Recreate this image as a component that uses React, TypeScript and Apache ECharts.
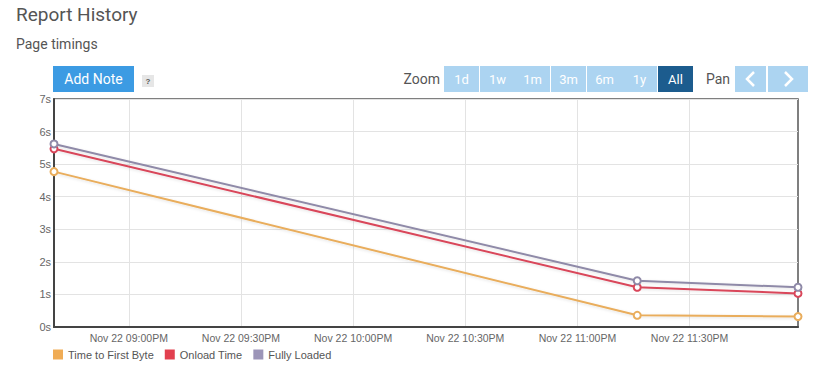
import React, { useEffect, useRef } from "react";
import * as echarts from "echarts";

const times = [
  new Date(2019, 10, 22, 20, 40).getTime(),
  new Date(2019, 10, 22, 23, 16).getTime(),
  new Date(2019, 10, 22, 23, 59).getTime(),
];
const tickTimes = [
  new Date(2019, 10, 22, 21, 0).getTime(),
  new Date(2019, 10, 22, 21, 30).getTime(),
  new Date(2019, 10, 22, 22, 0).getTime(),
  new Date(2019, 10, 22, 22, 30).getTime(),
  new Date(2019, 10, 22, 23, 0).getTime(),
  new Date(2019, 10, 22, 23, 30).getTime(),
];
const seriesNames = ["Time to First Byte", "Onload Time", "Fully Loaded"];
const ttfb = [4.77, 0.36, 0.32];
const onload = [5.47, 1.22, 1.03];
const fullyLoaded = [5.62, 1.42, 1.22];
const lineColors = ["#e9ad5c", "#d9465a", "#8f8aa8"];
const legendColors = ["#f0ac55", "#e2404f", "#9c95b8"];
const zoomButtons = ["1d", "1w", "1m", "3m", "6m", "1y", "All"];
const zoomButtonX = [444, 480, 515, 551, 587, 622, 658];

const MONTHS = ["Jan", "Feb", "Mar", "Apr", "May", "Jun", "Jul", "Aug", "Sep", "Oct", "Nov", "Dec"];
function fmt(v: number) {
  const d = new Date(v);
  let h = d.getHours();
  const ap = h >= 12 ? "PM" : "AM";
  h = h % 12;
  if (h === 0) h = 12;
  const hh = (h < 10 ? "0" : "") + h;
  const mm = (d.getMinutes() < 10 ? "0" : "") + d.getMinutes();
  return `${MONTHS[d.getMonth()]} ${d.getDate()} ${hh}:${mm}${ap}`;
}

export default function App() {
  const ref = useRef<HTMLDivElement>(null);
  useEffect(() => {
    const chart = echarts.init(ref.current!, null, { renderer: "svg" });
    const values = [ttfb, onload, fullyLoaded];
    const font = "'Liberation Sans', Arial, sans-serif";
    const ui = "Roboto, sans-serif";
    const graphic: any[] = [
      { type: "text", left: 16, top: 5, style: { text: "Report History", font: `19px ${ui}`, fill: "#555" } },
      { type: "text", left: 16, top: 37, style: { text: "Page timings", font: `14px ${ui}`, fill: "#555" } },
      { type: "rect", shape: { x: 53, y: 66, width: 81, height: 26 }, style: { fill: "#3c9be3" } },
      { type: "text", x: 93.5, y: 79, style: { text: "Add Note", font: `14px ${ui}`, fill: "#fff", align: "center", verticalAlign: "middle" } },
      { type: "rect", shape: { x: 142, y: 75, width: 12, height: 12 }, style: { fill: "#e6e6e6" } },
      { type: "text", x: 148, y: 81, style: { text: "?", font: "bold 8px sans-serif", fill: "#555", align: "center", verticalAlign: "middle" } },
      { type: "text", x: 440, y: 79, style: { text: "Zoom", font: `14px ${ui}`, fill: "#555", align: "right", verticalAlign: "middle" } },
      { type: "text", x: 730, y: 79, style: { text: "Pan", font: `14px ${ui}`, fill: "#555", align: "right", verticalAlign: "middle" } },
      { type: "rect", shape: { x: 735, y: 66, width: 31, height: 26 }, style: { fill: "#acd4f1" } },
      { type: "rect", shape: { x: 768, y: 66, width: 40, height: 26 }, style: { fill: "#acd4f1" } },
      { type: "polyline", shape: { points: [[754, 72], [747, 79], [754, 86]] }, style: { stroke: "#fff", lineWidth: 2.5, fill: "none" } },
      { type: "polyline", shape: { points: [[785, 72], [792, 79], [785, 86]] }, style: { stroke: "#fff", lineWidth: 2.5, fill: "none" } },
    ];
    zoomButtons.forEach((b, i) => {
      const x0 = zoomButtonX[i];
      const w = 35;
      const active = b === "All";
      graphic.push({ type: "rect", shape: { x: x0, y: 66, width: w, height: 26 }, style: { fill: active ? "#1c5c8e" : "#acd4f1" } });
      graphic.push({ type: "text", x: x0 + w / 2, y: 79, style: { text: b, font: `13px ${ui}`, fill: "#fff", align: "center", verticalAlign: "middle" } });
    });

    chart.setOption({
      animation: false,
      textStyle: { fontFamily: font },
      graphic,
      grid: { left: 54, right: 41, top: 99, bottom: 53, show: true, borderColor: "#555", borderWidth: 1.5, containLabel: false },
      legend: {
        left: 48,
        top: 344,
        icon: "rect",
        itemWidth: 10,
        itemHeight: 10,
        itemGap: 11,
        data: seriesNames.map((n, i) => ({ name: n, itemStyle: { color: legendColors[i], borderWidth: 0 } })),
        textStyle: { fontSize: 11, color: "#555", fontFamily: font },
      },
      xAxis: {
        type: "value",
        min: times[0],
        max: times[times.length - 1],
        axisLine: { lineStyle: { color: "#444", width: 2 } },
        axisTick: { show: true, length: 0, customValues: tickTimes, lineStyle: { color: "transparent" } },
        splitLine: { show: true, lineStyle: { color: "#e3e3e3" } },
        axisLabel: {
          customValues: tickTimes,
          formatter: (v: number) => fmt(v),
          fontSize: 10.5,
          color: "#666",
          margin: 5,
          showMinLabel: true,
          showMaxLabel: true,
          hideOverlap: false,
        },
      },
      yAxis: {
        type: "value",
        min: 0,
        max: 7,
        interval: 1,
        axisLine: { show: true, lineStyle: { color: "#444", width: 2 } },
        axisTick: { show: false },
        splitLine: { lineStyle: { color: "#e3e3e3" } },
        axisLabel: { formatter: (v: number) => `${v}s`, fontSize: 11, color: "#666", margin: 3 },
      },
      series: seriesNames.map((name, i) => ({
        name,
        type: "line",
        data: times.map((t, j) => [t, values[i][j]]),
        symbol: "emptyCircle",
        symbolSize: 7,
        color: lineColors[i],
        itemStyle: { color: lineColors[i], borderWidth: 1.5 },
        lineStyle: {
          color: lineColors[i],
          width: 2,
          shadowColor: "rgba(0,0,0,0.12)",
          shadowBlur: 3,
          shadowOffsetY: 1,
        },
        z: 2 + i,
      })),
    });
    return () => chart.dispose();
  }, []);
  return <div ref={ref} style={{ position: "fixed", left: 0, top: 0, width: 839, height: 380, background: "#fff" }} />;
}
